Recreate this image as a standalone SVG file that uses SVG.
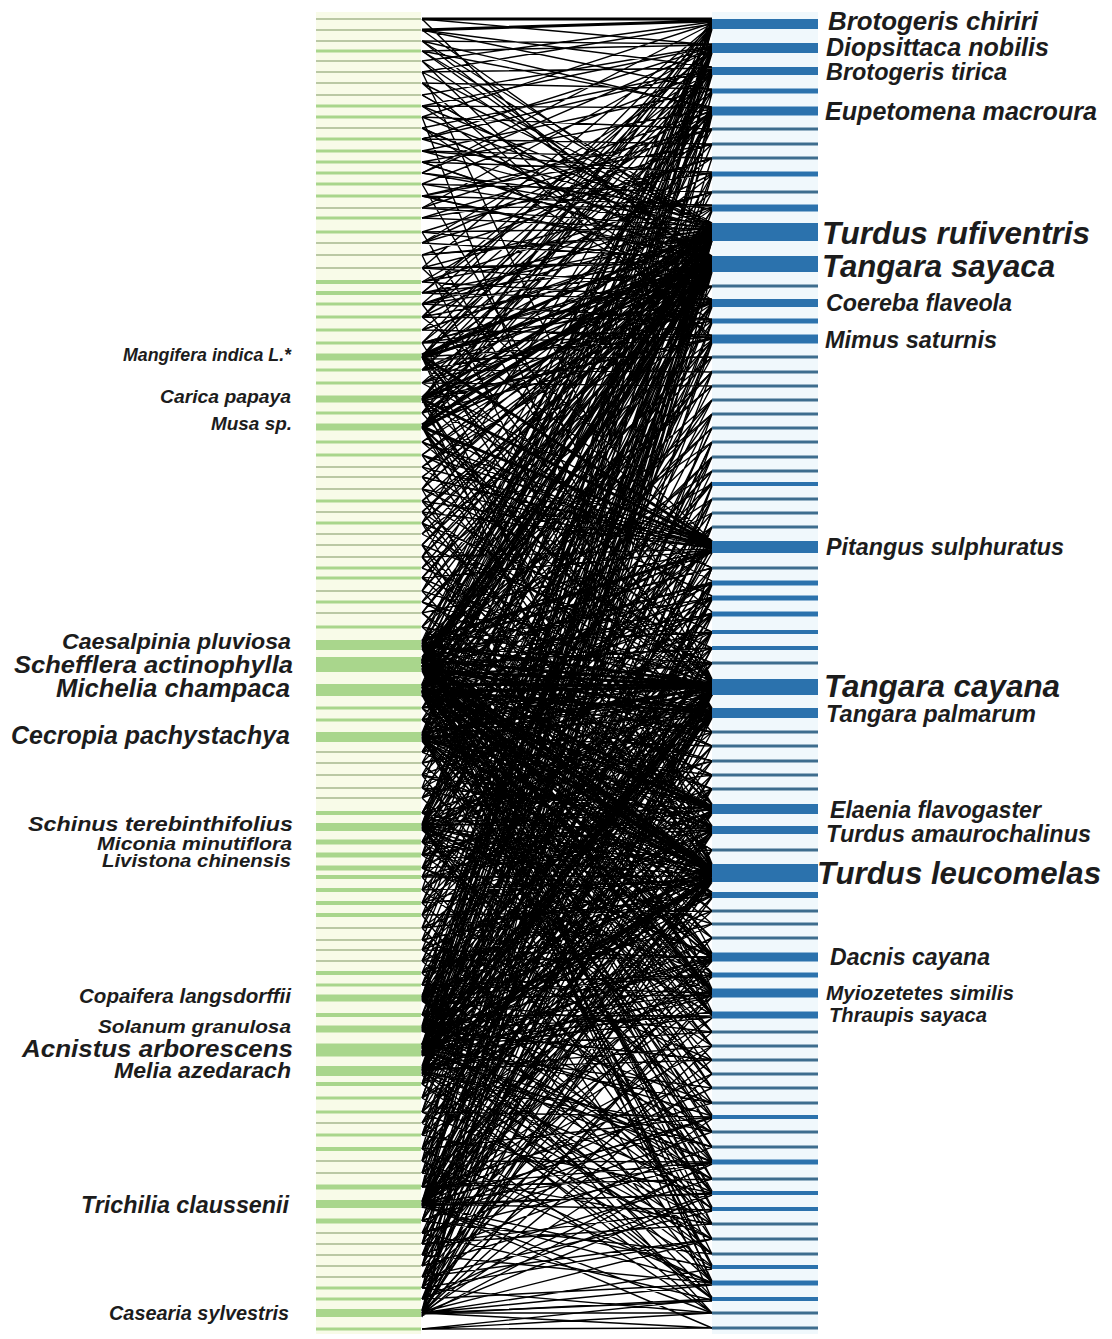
<svg xmlns="http://www.w3.org/2000/svg" width="1112" height="1339" viewBox="0 0 1112 1339">
<style>
.lb{fill:#a9d68c}.lt{fill:#bac8a4}.rb{fill:#2b72ad}.rt{fill:#3d6d8e}
text{font-family:"Liberation Sans",Arial,sans-serif;font-style:italic;font-weight:bold;fill:#1c1c1c}
.l{text-anchor:end}
.ln{fill:none;stroke:#000;stroke-width:1.4}
.lk{fill:none;stroke:#000;stroke-width:3}
</style>
<rect width="1112" height="1339" fill="#fff"/>
<rect x="316" y="12" width="105" height="1322" fill="#f8fbe8"/>
<rect x="712" y="12" width="106" height="1322" fill="#f0f8fc"/>
<g id="connectors">
<path class="ln" d="M422 61L712 22M422 117L712 23M422 173L712 24M422 268L712 25M422 356L712 26M422 399L712 27M422 427L712 27M422 663L712 28M422 688L712 28M422 1047L712 29
M422 41L712 44M422 51L712 45M422 95L712 46M422 139L712 47M422 208L712 48M422 304L712 49M422 358L712 50M422 413L712 50M422 643L712 51M422 735L712 52M422 825L712 52M422 1028L712 53
M422 30L712 67M422 72L712 68M422 128L712 69M422 184L712 70M422 293L712 71M422 370L712 72M422 400L712 73M422 692L712 73M422 997L712 74M422 1070L712 75
M422 83L712 89M422 151L712 90M422 330L712 91M422 428L712 92M422 667L712 92M422 1205L712 93
M422 51L712 107M422 106L712 108M422 162L712 109M422 243L712 110M422 343L712 111M422 355L712 112M422 397L712 113M422 647L712 113M422 739L712 114M422 1052L712 115M422 1311L712 115
M422 117L712 129M422 196L712 129M422 383L712 129M422 691L712 129
M422 139L712 144M422 232L712 144M422 426L712 144M422 829L712 144
M422 151L712 158M422 255L712 158M422 359L712 158M422 1030L712 158
M422 162L712 172M422 218L712 173M422 317L712 174M422 401L712 175M422 669L712 175M422 1084L712 176
M422 184L712 192M422 282L712 192M422 429L712 192M422 736L712 192
M422 196L712 205M422 208L712 206M422 304L712 207M422 357L712 208M422 413L712 209M422 644L712 210M422 689L712 210M422 999L712 211
M422 41L712 223M422 72L712 224M422 106L712 225M422 139L712 225M422 173L712 226M422 208L712 227M422 232L712 228M422 255L712 228M422 282L712 229M422 304L712 230M422 330L712 230M422 370L712 232M422 413L712 233M422 455L712 234M422 489L712 235M422 523L712 236M422 557L712 236M422 591L712 237M422 627L712 237M422 642L712 238M422 734L712 239M422 826L712 240M422 1027L712 240M422 1049L712 241M422 1202L712 241
M422 51L712 256M422 95L712 257M422 128L712 257M422 162L712 258M422 196L712 258M422 243L712 259M422 268L712 260M422 293L712 260M422 317L712 261M422 343L712 261M422 383L712 263M422 442L712 264M422 477L712 265M422 512L712 266M422 545L712 266M422 578L712 267M422 613L712 267M422 657L712 268M422 752L712 270M422 855L712 270M422 1000L712 271M422 1073L712 271M422 1315L712 272
M422 268L712 286M422 356L712 286M422 467L712 286M422 813L712 286
M422 282L712 299M422 293L712 300M422 343L712 301M422 398L712 302M422 426L712 303M422 501L712 304M422 662L712 304M422 689L712 305M422 828L712 306M422 1053L712 307
M422 304L712 319M422 317L712 320M422 370L712 321M422 534L712 321M422 740L712 322M422 1098L712 323
M422 330L712 335M422 343L712 336M422 357L712 337M422 401L712 338M422 413L712 339M422 568L712 340M422 646L712 341M422 694L712 341M422 842L712 342M422 1031L712 343M422 1187L712 343
M422 359L712 357M422 602L712 357M422 877L712 357
M422 370L712 372M422 648L712 372M422 903L712 372M422 1112L712 372
M422 383L712 386M422 627L712 386M422 928L712 386
M422 660L712 400M422 961L712 400
M422 687L712 414M422 985L712 414M422 1221L712 414
M422 708L712 428M422 1015L712 428
M422 720L712 442M422 1051L712 442M422 1244L712 442
M422 752L712 457M422 1135L712 457
M422 775L712 471M422 1074L712 471
M422 788L712 482M422 830L712 483M422 1161L712 485M422 1266L712 486
M422 813L712 499M422 1187L712 499
M422 855L712 513M422 1206L712 513
M422 868L712 527M422 1255L712 527
M422 268L712 541M422 317L712 542M422 383L712 543M422 442L712 545M422 455L712 545M422 467L712 546M422 477L712 546M422 489L712 547M422 501L712 548M422 512L712 548M422 557L712 549M422 578L712 550M422 613L712 550M422 667L712 552M422 735L712 552M422 1048L712 553
M422 402L712 568M422 646L712 568M422 890L712 568M422 1288L712 568
M422 425L712 581M422 660L712 582M422 738L712 583M422 940L712 584M422 1123L712 584M422 1299L712 585
M422 455L712 596M422 685L712 597M422 798L712 598M422 1027L712 599M422 1173L712 600
M422 357L712 612M422 691L712 613M422 842L712 614M422 1054L712 615M422 1233L712 616
M422 489L712 632M422 720L712 632M422 915L712 632M422 1277L712 632
M422 523L712 648M422 666L712 648M422 950L712 648M422 1149L712 648
M422 545L712 663M422 741L712 663M422 1068L712 663
M422 72L712 679M422 184L712 680M422 304L712 680M422 357L712 681M422 399L712 681M422 427L712 682M422 501L712 682M422 591L712 683M422 627L712 684M422 708L712 687M422 740L712 688M422 763L712 689M422 824L712 690M422 830L712 690M422 842L712 691M422 868L712 691M422 903L712 692M422 996L712 692M422 1028L712 693M422 1068L712 694M422 1135L712 695M422 1201L712 695M422 1255L712 695M422 1310L712 695
M422 232L712 708M422 357L712 709M422 427L712 710M422 578L712 710M422 643L712 711M422 737L712 714M422 826L712 715M422 890L712 715M422 1030L712 716M422 1050L712 717M422 1187L712 717M422 1288L712 718
M422 413L712 732M422 689L712 732M422 973L712 732M422 1244L712 732
M422 602L712 746M422 736L712 746M422 1084L712 746M422 1316L712 746
M422 665L712 761M422 855L712 761M422 1161L712 761
M422 647L712 775M422 813L712 775M422 1052L712 775M422 1266L712 775
M422 693L712 789M422 877L712 789M422 1205L712 789M422 1299L712 789
M422 343L712 804M422 427L712 805M422 523L712 805M422 645L712 806M422 737L712 809M422 788L712 810M422 827L712 810M422 928L712 811M422 998L712 812M422 1050L712 812M422 1112L712 813M422 1221L712 814
M422 399L712 826M422 557L712 827M422 642L712 827M422 688L712 828M422 739L712 829M422 824L712 829M422 842L712 830M422 961L712 831M422 1029L712 832M422 1071L712 832M422 1204L712 833M422 1277L712 834
M422 670L712 850M422 868L712 850M422 1123L712 850M422 1313L712 850
M422 117L712 864M422 255L712 864M422 357L712 865M422 399L712 866M422 427L712 866M422 512L712 867M422 613L712 868M422 645L712 868M422 720L712 872M422 741L712 873M422 775L712 874M422 813L712 874M422 827L712 875M422 855L712 875M422 877L712 876M422 903L712 877M422 940L712 877M422 973L712 878M422 998L712 878M422 1027L712 879M422 1071L712 880M422 1149L712 881M422 1187L712 881M422 1204L712 882M422 1233L712 882M422 1313L712 882
M422 690L712 892M422 737L712 893M422 842L712 894M422 1015L712 895M422 1050L712 896M422 1206L712 897M422 1288L712 898
M422 645L712 911M422 915L712 911M422 1173L712 911
M422 827L712 924M422 1071L712 924
M422 665L712 938M422 1098L712 938M422 1255L712 938
M422 427L712 953M422 645L712 954M422 665L712 954M422 690L712 955M422 737L712 956M422 827L712 957M422 950L712 957M422 1029L712 958M422 1050L712 959M422 1084L712 960M422 1204L712 960M422 1299L712 961
M422 645L712 973M422 737L712 974M422 985L712 975M422 1071L712 975M422 1135L712 976M422 1244L712 977
M422 357L712 989M422 545L712 990M422 645L712 990M422 690L712 992M422 827L712 993M422 868L712 994M422 998L712 995M422 1050L712 995M422 1071L712 996M422 1204L712 997M422 1313L712 997
M422 399L712 1012M422 645L712 1013M422 690L712 1013M422 737L712 1014M422 842L712 1015M422 1015L712 1016M422 1029L712 1016M422 1050L712 1017M422 1204L712 1018M422 1266L712 1018
M422 665L712 1032M422 1050L712 1032M422 1277L712 1032
M422 690L712 1046M422 1071L712 1046M422 1313L712 1046
M422 737L712 1060M422 1029L712 1060M422 1288L712 1060
M422 827L712 1074M422 1204L712 1074
M422 645L712 1088M422 1050L712 1088M422 1221L712 1088
M422 998L712 1103M422 1187L712 1103
M422 665L712 1115M422 1029L712 1116M422 1112L712 1117M422 1204L712 1118M422 1313L712 1119
M422 690L712 1132M422 1071L712 1132M422 1233L712 1132
M422 737L712 1147M422 1050L712 1147M422 1255L712 1147
M422 645L712 1160M422 827L712 1161M422 1050L712 1162M422 1161L712 1162M422 1204L712 1163M422 1299L712 1164
M422 998L712 1179M422 1187L712 1179M422 1266L712 1179
M422 690L712 1191M422 1071L712 1192M422 1204L712 1194M422 1313L712 1195
M422 665L712 1207M422 1029L712 1208M422 1204L712 1210M422 1277L712 1211
M422 737L712 1224M422 1050L712 1224M422 1244L712 1224
M422 827L712 1239M422 1084L712 1239M422 1288L712 1239
M422 1071L712 1254M422 1221L712 1254
M422 690L712 1265M422 1050L712 1266M422 1204L712 1268M422 1313L712 1269
M422 665L712 1281M422 1029L712 1282M422 1149L712 1283M422 1299L712 1284M422 1313L712 1285
M422 998L712 1297M422 1071L712 1298M422 1233L712 1300M422 1313L712 1301
M422 1204L712 1313M422 1313L712 1313M422 1329L712 1313
M422 1313L712 1328M422 1329L712 1328"/>
<path class="ln" d="M422 19L712 45M422 30L712 90M422 41L712 109M422 51L712 225M422 61L712 257M422 72L712 24M422 83L712 226M422 95L712 258M422 106L712 47M422 117L712 227M422 128L712 259M422 139L712 70M422 151L712 228M422 162L712 260M422 173L712 48M422 184L712 229M422 196L712 261M422 208L712 111M422 218L712 230M422 232L712 262M422 243L712 71M422 255L712 231M422 268L712 263M422 282L712 112M422 293L712 233M422 304L712 264M422 317L712 25M422 330L712 234M422 343L712 265M422 19L712 305M422 30L712 236M422 41L712 266M422 61L712 340M422 83L712 337M422 106L712 300M422 128L712 321M422 151L712 174M422 173L712 209M422 196L712 144M422 218L712 129M422 243L712 158M422 268L712 192M422 293L712 49M422 317L712 72
M422 343L712 44M422 357L712 69M422 370L712 110M422 383L712 226M422 399L712 21M422 413L712 258M422 427L712 46M422 357L712 230M422 370L712 262M422 383L712 301M422 399L712 338M422 413L712 113M422 427L712 237M422 357L712 266M422 399L712 268M422 427L712 302M422 442L712 227M422 455L712 259M422 467L712 231M422 477L712 261M422 489L712 110M422 501L712 235M422 512L712 264M422 523L712 47M422 534L712 238M422 545L712 267M422 557L712 90M422 568L712 226M422 578L712 270M422 591L712 72M422 602L712 229M422 613L712 259
M422 641L712 22M422 650L712 48M422 659L712 70M422 664L712 110M422 668L712 229M422 671L712 257M422 684L712 25M422 688L712 52M422 692L712 112M422 694L712 235M422 696L712 263M422 708L712 226M422 720L712 265M422 733L712 27M422 737L712 73M422 741L712 233M422 752L712 258M422 763L712 237M422 775L712 270M422 788L712 24M422 798L712 230M422 813L712 262M422 824L712 45M422 827L712 111M422 831L712 239M422 842L712 266M422 855L712 20M422 868L712 231M422 877L712 261M422 890L712 49M422 903L712 225M422 915L712 260M422 928L712 174M422 940L712 236M422 950L712 268M422 961L712 340M422 973L712 302M422 985L712 227M422 998L712 50M422 1001L712 259M422 1015L712 234M422 1026L712 26M422 1029L712 114M422 1032L712 264M422 1044L712 229M422 1048L712 72M422 1052L712 262M422 1056L712 321M422 1066L712 237M422 1071L712 46M422 1076L712 267M422 1084L712 231M422 1098L712 300M422 1112L712 228M422 1135L712 258M422 1149L712 238M422 1161L712 110M422 1173L712 265M422 1187L712 26M422 1204L712 230M422 1208L712 263M422 1221L712 336M422 1244L712 233M422 1266L712 262M422 1288L712 240M422 1313L712 226M422 1317L712 258
M422 641L712 386M422 642L712 442M422 643L712 484M422 644L712 568M422 645L712 598M422 646L712 632M422 647L712 663M422 648L712 713M422 649L712 746M422 641L712 775M422 642L712 830M422 643L712 895M422 644L712 938M422 646L712 975M422 647L712 1015M422 648L712 1074M422 649L712 1132M422 645L712 1179M422 644L712 1224M422 643L712 1283
M422 658L712 357M422 659L712 414M422 660L712 471M422 661L712 513M422 662L712 583M422 663L712 614M422 664L712 648M422 665L712 690M422 666L712 732M422 667L712 789M422 668L712 812M422 669L712 850M422 670L712 873M422 671L712 924M422 659L712 957M422 661L712 993M422 663L712 1046M422 665L712 1103M422 667L712 1162M422 669L712 1209M422 671L712 1254M422 660L712 1299
M422 685L712 372M422 686L712 428M422 687L712 499M422 688L712 547M422 689L712 583M422 690L712 632M422 691L712 663M422 692L712 682M422 693L712 716M422 694L712 761M422 695L712 809M422 685L712 832M422 686L712 880M422 687L712 911M422 688L712 960M422 689L712 995M422 691L712 1032M422 692L712 1088M422 693L712 1147M422 694L712 1193M422 695L712 1239M422 690L712 1267
M422 733L712 400M422 734L712 457M422 735L712 527M422 736L712 550M422 737L712 598M422 738L712 648M422 739L712 693M422 740L712 710M422 741L712 775M422 733L712 806M422 734L712 826M422 735L712 866M422 736L712 898M422 738L712 938M422 739L712 990M422 740L712 1046M422 741L712 1117M422 737L712 1179M422 736L712 1267
M422 824L712 414M422 825L712 484M422 826L712 545M422 827L712 614M422 828L712 682M422 829L712 732M422 830L712 761M422 824L712 806M422 825L712 868M422 826L712 895M422 828L712 957M422 829L712 1015M422 830L712 1088M422 827L712 1193M422 826L712 1283
M422 995L712 457M422 996L712 568M422 997L712 632M422 998L712 684M422 999L712 713M422 1000L712 789M422 1001L712 830M422 995L712 873M422 996L712 924M422 997L712 975M422 999L712 1032M422 1000L712 1132M422 1001L712 1209M422 998L712 1313
M422 1026L712 499M422 1027L712 583M422 1028L712 663M422 1029L712 690M422 1030L712 746M422 1031L712 809M422 1032L712 864M422 1026L712 911M422 1028L712 993M422 1030L712 1060M422 1031L712 1162M422 1029L712 1254
M422 1044L712 428M422 1045L712 527M422 1047L712 547M422 1048L712 614M422 1049L712 686M422 1051L712 712M422 1052L712 761M422 1053L712 812M422 1054L712 870M422 1055L712 895M422 1056L712 955M422 1044L712 1012M422 1046L712 1103M422 1048L712 1179M422 1050L712 1239M422 1052L712 1299
M422 1067L712 442M422 1068L712 541M422 1069L712 598M422 1070L712 679M422 1071L712 713M422 1072L712 789M422 1073L712 832M422 1074L712 876M422 1075L712 938M422 1067L712 990M422 1069L712 1060M422 1071L712 1147M422 1073L712 1224M422 1075L712 1313
M422 1201L712 513M422 1202L712 598M422 1203L712 648M422 1204L712 687M422 1205L712 716M422 1206L712 775M422 1207L712 830M422 1201L712 878M422 1202L712 957M422 1203L712 1046M422 1205L712 1117M422 1206L712 1193M422 1207L712 1283M422 1204L712 1328
M422 1310L712 568M422 1311L712 692M422 1312L712 809M422 1313L712 873M422 1314L712 993M422 1315L712 1074M422 1316L712 1162M422 1312L712 1239M422 1314L712 1299
M422 708L712 371M422 708L712 614M422 708L712 873M422 708L712 1015M422 720L712 682M422 720L712 809M422 720L712 957M422 752L712 583M422 752L712 690M422 752L712 880M422 763L712 471M422 763L712 713M422 763L712 1032M422 775L712 663M422 775L712 830M422 775L712 1147M422 788L712 632M422 788L712 873M422 788L712 990M422 798L712 548M422 798L712 686M422 798L712 1074M422 813L712 400M422 813L712 713M422 813L712 957M422 842L712 527M422 842L712 684M422 842L712 1117M422 855L712 598M422 855L712 809M422 855L712 1046M422 868L712 457M422 868L712 713M422 868L712 975M422 877L712 648M422 877L712 830M422 877L712 1193M422 890L712 690M422 890L712 880M422 890L712 1103M422 903L712 614M422 903L712 812M422 903L712 1162M422 915L712 541M422 915L712 686M422 915L712 1283M422 928L712 713M422 928L712 895M422 928L712 1224M422 940L712 583M422 940L712 873M422 940L712 1060M422 950L712 690M422 950L712 830M422 950L712 1132M422 961L712 663M422 961L712 957M422 961L712 1209M422 973L712 632M422 973L712 866M422 973L712 1254M422 985L712 499M422 985L712 710M422 985L712 993M422 1015L712 682M422 1015L712 870M422 1015L712 1179M422 1084L712 547M422 1084L712 809M422 1084L712 1299M422 1098L712 690M422 1098L712 873M422 1098L712 1267M422 1112L712 632M422 1112L712 876M422 1112L712 1239M422 1123L712 713M422 1123L712 955M422 1123L712 1313M422 1135L712 684M422 1135L712 866M422 1135L712 1193M422 1149L712 598M422 1149L712 830M422 1149L712 1117M422 1161L712 686M422 1161L712 880M422 1161L712 1283M422 1173L712 648M422 1173L712 993M422 1173L712 1224M422 1187L712 710M422 1187L712 873M422 1187L712 1162
M422 442L712 568M422 442L712 690M422 455L712 232M422 455L712 873M422 467L712 262M422 467L712 684M422 477L712 547M422 477L712 809M422 489L712 226M422 489L712 993M422 501L712 868M422 512L712 238M422 512L712 713M422 523L712 259M422 523L712 1015M422 534L712 682M422 545L712 229M422 545L712 873M422 557L712 264M422 557L712 957M422 568L712 686M422 578L712 236M422 578L712 830M422 591L712 263M422 591L712 895M422 602L712 690M422 613L712 230M422 613L712 812M422 627L712 266M422 627L712 873
M422 1221L712 687M422 1221L712 1117M422 1233L712 873M422 1233L712 1162M422 1244L712 690M422 1244L712 1209M422 1255L712 830M422 1255L712 1283M422 1266L712 713M422 1277L712 957M422 1277L712 1239M422 1288L712 686M422 1288L712 1313M422 1299L712 870M422 1299L712 1193M422 1329L712 1299"/>
<path class="lk" d="M422 19L712 19M422 30L712 21M422 355L712 231M422 398L712 232M422 425L712 234M422 661L712 238M422 686L712 239M422 358L712 262M422 400L712 263M422 429L712 264M422 664L712 268M422 693L712 269M422 356L712 542M422 399L712 543M422 427L712 544M422 641L712 551M422 645L712 684M422 660L712 685M422 670L712 686M422 684L712 686M422 692L712 687M422 733L712 688M422 1045L712 693M422 1055L712 694M422 668L712 712M422 690L712 713M422 665L712 807M422 690L712 808M422 660L712 869M422 668L712 870M422 686L712 871M422 695L712 871M422 734L712 872M422 1046L712 879M422 1054L712 880M422 665L712 991"/>
</g>
<g id="plants">
<g id="p1"><rect class="lt" x="316" y="18" width="105" height="2"/></g>
<g id="p2"><rect class="lt" x="316" y="29" width="105" height="2"/></g>
<g id="p3"><rect class="lt" x="316" y="40" width="105" height="2"/></g>
<g id="p4"><rect class="lb" x="316" y="49.5" width="105" height="3"/></g>
<g id="p5"><rect class="lt" x="316" y="60" width="105" height="2"/></g>
<g id="p6"><rect class="lt" x="316" y="71" width="105" height="2"/></g>
<g id="p7"><rect class="lt" x="316" y="82" width="105" height="2"/></g>
<g id="p8"><rect class="lt" x="316" y="94" width="105" height="2"/></g>
<g id="p9"><rect class="lb" x="316" y="104.5" width="105" height="3"/></g>
<g id="p10"><rect class="lb" x="316" y="115.5" width="105" height="3"/></g>
<g id="p11"><rect class="lt" x="316" y="127" width="105" height="2"/></g>
<g id="p12"><rect class="lb" x="316" y="137.5" width="105" height="3"/></g>
<g id="p13"><rect class="lb" x="316" y="149.5" width="105" height="3"/></g>
<g id="p14"><rect class="lb" x="316" y="160.5" width="105" height="3"/></g>
<g id="p15"><rect class="lb" x="316" y="171.5" width="105" height="3"/></g>
<g id="p16"><rect class="lb" x="316" y="182.5" width="105" height="3"/></g>
<g id="p17"><rect class="lb" x="316" y="194.5" width="105" height="3"/></g>
<g id="p18"><rect class="lt" x="316" y="207" width="105" height="2"/></g>
<g id="p19"><rect class="lb" x="316" y="216.5" width="105" height="3"/></g>
<g id="p20"><rect class="lb" x="316" y="230.5" width="105" height="3"/></g>
<g id="p21"><rect class="lt" x="316" y="242" width="105" height="2"/></g>
<g id="p22"><rect class="lt" x="316" y="254" width="105" height="2"/></g>
<g id="p23"><rect class="lt" x="316" y="267" width="105" height="2"/></g>
<g id="p24"><rect class="lb" x="316" y="280" width="105" height="4"/></g>
<g id="p25"><rect class="lb" x="316" y="291" width="105" height="4"/></g>
<g id="p26"><rect class="lb" x="316" y="302.5" width="105" height="3"/></g>
<g id="p27"><rect class="lb" x="316" y="315.5" width="105" height="3"/></g>
<g id="p28"><rect class="lb" x="316" y="328.5" width="105" height="3"/></g>
<g id="p29"><rect class="lb" x="316" y="341.5" width="105" height="3"/></g>
<g id="p30"><rect class="lb" x="316" y="353.5" width="105" height="7"/><text class="l" x="291" y="361" font-size="18" textLength="168" lengthAdjust="spacingAndGlyphs">Mangifera indica L.*</text></g>
<g id="p31"><rect class="lb" x="316" y="368.5" width="105" height="3"/></g>
<g id="p32"><rect class="lb" x="316" y="381.5" width="105" height="3"/></g>
<g id="p33"><rect class="lb" x="316" y="395.5" width="105" height="7"/><text class="l" x="291" y="402.5" font-size="19" textLength="131" lengthAdjust="spacingAndGlyphs">Carica papaya</text></g>
<g id="p34"><rect class="lb" x="316" y="411.5" width="105" height="3"/></g>
<g id="p35"><rect class="lb" x="316" y="423.5" width="105" height="7"/><text class="l" x="292" y="429.5" font-size="19" textLength="81" lengthAdjust="spacingAndGlyphs">Musa sp.</text></g>
<g id="p36"><rect class="lb" x="316" y="440.5" width="105" height="3"/></g>
<g id="p37"><rect class="lb" x="316" y="453.5" width="105" height="3"/></g>
<g id="p38"><rect class="lt" x="316" y="466" width="105" height="2"/></g>
<g id="p39"><rect class="lt" x="316" y="476" width="105" height="2"/></g>
<g id="p40"><rect class="lt" x="316" y="488" width="105" height="2"/></g>
<g id="p41"><rect class="lb" x="316" y="499.5" width="105" height="3"/></g>
<g id="p42"><rect class="lt" x="316" y="511" width="105" height="2"/></g>
<g id="p43"><rect class="lb" x="316" y="521.5" width="105" height="3"/></g>
<g id="p44"><rect class="lt" x="316" y="533" width="105" height="2"/></g>
<g id="p45"><rect class="lt" x="316" y="544" width="105" height="2"/></g>
<g id="p46"><rect class="lt" x="316" y="556" width="105" height="2"/></g>
<g id="p47"><rect class="lb" x="316" y="566.5" width="105" height="3"/></g>
<g id="p48"><rect class="lb" x="316" y="576.5" width="105" height="3"/></g>
<g id="p49"><rect class="lt" x="316" y="590" width="105" height="2"/></g>
<g id="p50"><rect class="lb" x="316" y="600.5" width="105" height="3"/></g>
<g id="p51"><rect class="lt" x="316" y="612" width="105" height="2"/></g>
<g id="p52"><rect class="lb" x="316" y="625.5" width="105" height="3"/></g>
<g id="p53"><rect class="lb" x="316" y="640" width="105" height="10"/><text class="l" x="291" y="648.5" font-size="22" textLength="229" lengthAdjust="spacingAndGlyphs">Caesalpinia pluviosa</text></g>
<g id="p55"><rect class="lb" x="316" y="657" width="105" height="15"/><text class="l" x="293" y="673" font-size="24.5" textLength="279" lengthAdjust="spacingAndGlyphs">Schefflera actinophylla</text></g>
<g id="p56"><rect class="lb" x="316" y="684" width="105" height="12"/><text class="l" x="290" y="697" font-size="25" textLength="234" lengthAdjust="spacingAndGlyphs">Michelia champaca</text></g>
<g id="p57"><rect class="lb" x="316" y="706.5" width="105" height="3"/></g>
<g id="p58"><rect class="lb" x="316" y="718.5" width="105" height="3"/></g>
<g id="p59"><rect class="lb" x="316" y="732" width="105" height="10"/><text class="l" x="290" y="743.5" font-size="25" textLength="279" lengthAdjust="spacingAndGlyphs">Cecropia pachystachya</text></g>
<g id="p60"><rect class="lt" x="316" y="751" width="105" height="2"/></g>
<g id="p61"><rect class="lt" x="316" y="762" width="105" height="2"/></g>
<g id="p62"><rect class="lt" x="316" y="774" width="105" height="2"/></g>
<g id="p63"><rect class="lt" x="316" y="787" width="105" height="2"/></g>
<g id="p64"><rect class="lt" x="316" y="797" width="105" height="2"/></g>
<g id="p65"><rect class="lb" x="316" y="811" width="105" height="4"/></g>
<g id="p66"><rect class="lb" x="316" y="823" width="105" height="8"/><text class="l" x="293" y="831" font-size="21" textLength="265" lengthAdjust="spacingAndGlyphs">Schinus terebinthifolius</text></g>
<g id="p67"><rect class="lb" x="316" y="839.5" width="105" height="5"/><text class="l" x="292" y="849.5" font-size="18" textLength="195" lengthAdjust="spacingAndGlyphs">Miconia minutiflora</text></g>
<g id="p68"><rect class="lb" x="316" y="852.5" width="105" height="5"/><text class="l" x="291" y="866.5" font-size="18" textLength="189" lengthAdjust="spacingAndGlyphs">Livistona chinensis</text></g>
<g id="p69"><rect class="lb" x="316" y="865.5" width="105" height="5"/></g>
<g id="p70"><rect class="lb" x="316" y="875" width="105" height="4"/></g>
<g id="p71"><rect class="lb" x="316" y="888" width="105" height="4"/></g>
<g id="p72"><rect class="lb" x="316" y="901" width="105" height="4"/></g>
<g id="p73"><rect class="lb" x="316" y="913" width="105" height="4"/></g>
<g id="p74"><rect class="lt" x="316" y="927" width="105" height="2"/></g>
<g id="p75"><rect class="lt" x="316" y="939" width="105" height="2"/></g>
<g id="p76"><rect class="lt" x="316" y="949" width="105" height="2"/></g>
<g id="p77"><rect class="lt" x="316" y="960" width="105" height="2"/></g>
<g id="p78"><rect class="lb" x="316" y="971" width="105" height="4"/></g>
<g id="p79"><rect class="lb" x="316" y="983.5" width="105" height="3"/></g>
<g id="p80"><rect class="lb" x="316" y="994.5" width="105" height="7"/><text class="l" x="291" y="1003" font-size="20.5" textLength="212" lengthAdjust="spacingAndGlyphs">Copaifera langsdorffii</text></g>
<g id="p81"><rect class="lb" x="316" y="1013" width="105" height="4"/></g>
<g id="p82"><rect class="lb" x="316" y="1025.5" width="105" height="7"/><text class="l" x="291" y="1032.5" font-size="18.5" textLength="193" lengthAdjust="spacingAndGlyphs">Solanum granulosa</text></g>
<g id="p83"><rect class="lb" x="316" y="1043.5" width="105" height="13"/><text class="l" x="293" y="1057" font-size="24.5" textLength="271" lengthAdjust="spacingAndGlyphs">Acnistus arborescens</text></g>
<g id="p84"><rect class="lb" x="316" y="1066" width="105" height="10"/><text class="l" x="291" y="1078" font-size="22" textLength="177" lengthAdjust="spacingAndGlyphs">Melia azedarach</text></g>
<g id="p85"><rect class="lb" x="316" y="1082" width="105" height="4"/></g>
<g id="p86"><rect class="lb" x="316" y="1096.5" width="105" height="3"/></g>
<g id="p87"><rect class="lb" x="316" y="1110.5" width="105" height="3"/></g>
<g id="p88"><rect class="lt" x="316" y="1122" width="105" height="2"/></g>
<g id="p89"><rect class="lb" x="316" y="1133.5" width="105" height="3"/></g>
<g id="p90"><rect class="lb" x="316" y="1147" width="105" height="4"/></g>
<g id="p91"><rect class="lt" x="316" y="1160" width="105" height="2"/></g>
<g id="p92"><rect class="lt" x="316" y="1172" width="105" height="2"/></g>
<g id="p93"><rect class="lb" x="316" y="1184.5" width="105" height="5"/></g>
<g id="p94"><rect class="lb" x="316" y="1200" width="105" height="8"/><text class="l" x="289" y="1213" font-size="23" textLength="208" lengthAdjust="spacingAndGlyphs">Trichilia claussenii</text></g>
<g id="p95"><rect class="lb" x="316" y="1218.5" width="105" height="5"/></g>
<g id="p96"><rect class="lt" x="316" y="1232" width="105" height="2"/></g>
<g id="p97"><rect class="lt" x="316" y="1243" width="105" height="2"/></g>
<g id="p98"><rect class="lt" x="316" y="1254" width="105" height="2"/></g>
<g id="p99"><rect class="lt" x="316" y="1265" width="105" height="2"/></g>
<g id="p100"><rect class="lt" x="316" y="1276" width="105" height="2"/></g>
<g id="p101"><rect class="lb" x="316" y="1286.5" width="105" height="3"/></g>
<g id="p102"><rect class="lb" x="316" y="1297.5" width="105" height="3"/></g>
<g id="p103"><rect class="lb" x="316" y="1309" width="105" height="8"/><text class="l" x="289" y="1320" font-size="20" textLength="180" lengthAdjust="spacingAndGlyphs">Casearia sylvestris</text></g>
<g id="p104"><rect class="lb" x="316" y="1327.5" width="105" height="3"/></g>
</g>
<g id="birds">
<g id="b1"><rect class="rb" x="712" y="19" width="106" height="10"/><text x="828" y="30" font-size="25.5" textLength="210" lengthAdjust="spacingAndGlyphs">Brotogeris chiriri</text></g>
<g id="b2"><rect class="rb" x="712" y="43" width="106" height="10"/><text x="826" y="55.5" font-size="25" textLength="223" lengthAdjust="spacingAndGlyphs">Diopsittaca nobilis</text></g>
<g id="b3"><rect class="rb" x="712" y="67" width="106" height="8"/><text x="826" y="80" font-size="23.5" textLength="181" lengthAdjust="spacingAndGlyphs">Brotogeris tirica</text></g>
<g id="b4"><rect class="rb" x="712" y="88.5" width="106" height="5"/></g>
<g id="b5"><rect class="rb" x="712" y="106.5" width="106" height="9"/><text x="825" y="119.5" font-size="25" textLength="272" lengthAdjust="spacingAndGlyphs">Eupetomena macroura</text></g>
<g id="b6"><rect class="rt" x="712" y="127.5" width="106" height="3"/></g>
<g id="b7"><rect class="rt" x="712" y="142.5" width="106" height="3"/></g>
<g id="b8"><rect class="rt" x="712" y="156.5" width="106" height="3"/></g>
<g id="b9"><rect class="rb" x="712" y="171.5" width="106" height="5"/></g>
<g id="b10"><rect class="rt" x="712" y="190.5" width="106" height="3"/></g>
<g id="b11"><rect class="rb" x="712" y="204.5" width="106" height="7"/></g>
<g id="b12"><rect class="rb" x="712" y="223" width="106" height="18"/><text x="822" y="243.5" font-size="31" textLength="268" lengthAdjust="spacingAndGlyphs">Turdus rufiventris</text></g>
<g id="b13"><rect class="rb" x="712" y="256" width="106" height="16"/><text x="822" y="276.5" font-size="31" textLength="233" lengthAdjust="spacingAndGlyphs">Tangara sayaca</text></g>
<g id="b14"><rect class="rt" x="712" y="284.5" width="106" height="3"/></g>
<g id="b15"><rect class="rb" x="712" y="299" width="106" height="8"/><text x="826" y="311" font-size="23" textLength="186" lengthAdjust="spacingAndGlyphs">Coereba flaveola</text></g>
<g id="b16"><rect class="rb" x="712" y="318.5" width="106" height="5"/></g>
<g id="b17"><rect class="rb" x="712" y="334.5" width="106" height="9"/><text x="825" y="348" font-size="23.5" textLength="172" lengthAdjust="spacingAndGlyphs">Mimus saturnis</text></g>
<g id="b18"><rect class="rt" x="712" y="355.5" width="106" height="3"/></g>
<g id="b19"><rect class="rt" x="712" y="370.5" width="106" height="3"/></g>
<g id="b20"><rect class="rt" x="712" y="384.5" width="106" height="3"/></g>
<g id="b21"><rect class="rt" x="712" y="398.5" width="106" height="3"/></g>
<g id="b22"><rect class="rt" x="712" y="412.5" width="106" height="3"/></g>
<g id="b23"><rect class="rt" x="712" y="426.5" width="106" height="3"/></g>
<g id="b24"><rect class="rt" x="712" y="440.5" width="106" height="3"/></g>
<g id="b25"><rect class="rt" x="712" y="455.5" width="106" height="3"/></g>
<g id="b26"><rect class="rt" x="712" y="469.5" width="106" height="3"/></g>
<g id="b27"><rect class="rb" x="712" y="482" width="106" height="4"/></g>
<g id="b28"><rect class="rt" x="712" y="497.5" width="106" height="3"/></g>
<g id="b29"><rect class="rt" x="712" y="511.5" width="106" height="3"/></g>
<g id="b30"><rect class="rt" x="712" y="525.5" width="106" height="3"/></g>
<g id="b31"><rect class="rb" x="712" y="541" width="106" height="12"/><text x="826" y="555" font-size="23" textLength="238" lengthAdjust="spacingAndGlyphs">Pitangus sulphuratus</text></g>
<g id="b32"><rect class="rt" x="712" y="566.5" width="106" height="3"/></g>
<g id="b33"><rect class="rb" x="712" y="580.5" width="106" height="5"/></g>
<g id="b34"><rect class="rb" x="712" y="595.5" width="106" height="5"/></g>
<g id="b35"><rect class="rb" x="712" y="611.5" width="106" height="5"/></g>
<g id="b36"><rect class="rb" x="712" y="630" width="106" height="4"/></g>
<g id="b37"><rect class="rb" x="712" y="646" width="106" height="4"/></g>
<g id="b38"><rect class="rt" x="712" y="661.5" width="106" height="3"/></g>
<g id="b39"><rect class="rb" x="712" y="679" width="106" height="16"/><text x="824" y="696.5" font-size="31" textLength="236" lengthAdjust="spacingAndGlyphs">Tangara cayana</text></g>
<g id="b40"><rect class="rb" x="712" y="708" width="106" height="10"/><text x="826" y="722" font-size="23.5" textLength="210" lengthAdjust="spacingAndGlyphs">Tangara palmarum</text></g>
<g id="b41"><rect class="rt" x="712" y="730.5" width="106" height="3"/></g>
<g id="b42"><rect class="rt" x="712" y="744.5" width="106" height="3"/></g>
<g id="b43"><rect class="rt" x="712" y="759.5" width="106" height="3"/></g>
<g id="b44"><rect class="rt" x="712" y="773.5" width="106" height="3"/></g>
<g id="b45"><rect class="rt" x="712" y="787.5" width="106" height="3"/></g>
<g id="b46"><rect class="rb" x="712" y="804" width="106" height="10"/><text x="830" y="818" font-size="23" textLength="211" lengthAdjust="spacingAndGlyphs">Elaenia flavogaster</text></g>
<g id="b47"><rect class="rb" x="712" y="826" width="106" height="8"/><text x="826" y="842" font-size="23.5" textLength="265" lengthAdjust="spacingAndGlyphs">Turdus amaurochalinus</text></g>
<g id="b48"><rect class="rt" x="712" y="848.5" width="106" height="3"/></g>
<g id="b49"><rect class="rb" x="712" y="864" width="106" height="18"/><text x="817" y="883.5" font-size="31" textLength="284" lengthAdjust="spacingAndGlyphs">Turdus leucomelas</text></g>
<g id="b50"><rect class="rb" x="712" y="892" width="106" height="6"/></g>
<g id="b51"><rect class="rt" x="712" y="909.5" width="106" height="3"/></g>
<g id="b52"><rect class="rt" x="712" y="922.5" width="106" height="3"/></g>
<g id="b53"><rect class="rt" x="712" y="936.5" width="106" height="3"/></g>
<g id="b54"><rect class="rb" x="712" y="952.5" width="106" height="9"/><text x="830" y="965" font-size="23" textLength="160" lengthAdjust="spacingAndGlyphs">Dacnis cayana</text></g>
<g id="b55"><rect class="rb" x="712" y="972.5" width="106" height="5"/></g>
<g id="b56"><rect class="rb" x="712" y="988.5" width="106" height="9"/><text x="826" y="1000" font-size="21" textLength="188" lengthAdjust="spacingAndGlyphs">Myiozetetes similis</text></g>
<g id="b57"><rect class="rb" x="712" y="1011.5" width="106" height="7"/><text x="829" y="1022" font-size="20" textLength="158" lengthAdjust="spacingAndGlyphs">Thraupis sayaca</text></g>
<g id="b58"><rect class="rt" x="712" y="1030.5" width="106" height="3"/></g>
<g id="b59"><rect class="rt" x="712" y="1044.5" width="106" height="3"/></g>
<g id="b60"><rect class="rt" x="712" y="1058.5" width="106" height="3"/></g>
<g id="b61"><rect class="rt" x="712" y="1072.5" width="106" height="3"/></g>
<g id="b62"><rect class="rt" x="712" y="1086.5" width="106" height="3"/></g>
<g id="b63"><rect class="rt" x="712" y="1101.5" width="106" height="3"/></g>
<g id="b64"><rect class="rb" x="712" y="1115" width="106" height="4"/></g>
<g id="b65"><rect class="rt" x="712" y="1130.5" width="106" height="3"/></g>
<g id="b66"><rect class="rt" x="712" y="1145.5" width="106" height="3"/></g>
<g id="b67"><rect class="rb" x="712" y="1159.5" width="106" height="5"/></g>
<g id="b68"><rect class="rt" x="712" y="1177.5" width="106" height="3"/></g>
<g id="b69"><rect class="rb" x="712" y="1191" width="106" height="4"/></g>
<g id="b70"><rect class="rb" x="712" y="1207" width="106" height="4"/></g>
<g id="b71"><rect class="rt" x="712" y="1222.5" width="106" height="3"/></g>
<g id="b72"><rect class="rt" x="712" y="1237.5" width="106" height="3"/></g>
<g id="b73"><rect class="rt" x="712" y="1252.5" width="106" height="3"/></g>
<g id="b74"><rect class="rb" x="712" y="1265" width="106" height="4"/></g>
<g id="b75"><rect class="rb" x="712" y="1280.5" width="106" height="5"/></g>
<g id="b76"><rect class="rb" x="712" y="1297" width="106" height="4"/></g>
<g id="b77"><rect class="rt" x="712" y="1311.5" width="106" height="3"/></g>
<g id="b78"><rect class="rt" x="712" y="1326.5" width="106" height="3"/></g>
</g>
</svg>
